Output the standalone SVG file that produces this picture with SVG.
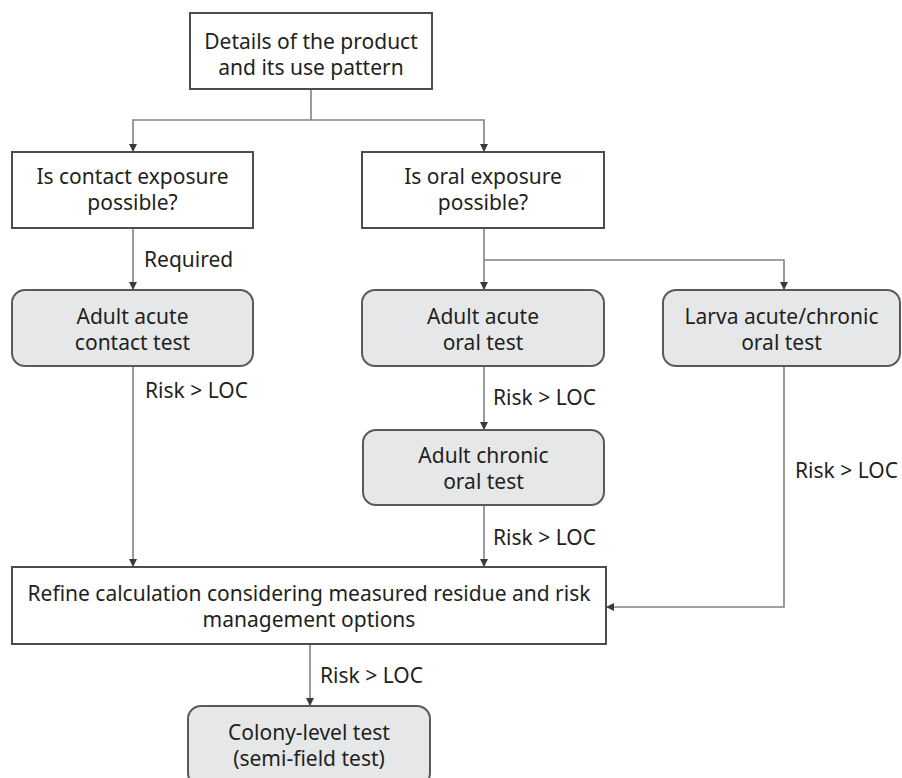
<svg xmlns="http://www.w3.org/2000/svg" width="902" height="778" viewBox="0 0 902 778">
  <style>
    .box { fill: #ffffff; stroke: #4d4d4f; stroke-width: 2; }
    .test { fill: #e6e7e8; stroke: #58595b; stroke-width: 2; }
    .txt { font-family: "Noto Sans", "Open Sans", "Liberation Sans", sans-serif; font-size: 21px; fill: #231f20; }
    .mid { text-anchor: middle; }
    .link { fill: none; stroke: #808285; stroke-width: 1.6; }
  </style>
  <defs>
    <marker id="arrow" markerWidth="8" markerHeight="8" refX="8" refY="4" orient="auto" markerUnits="userSpaceOnUse">
      <path d="M0,0 L8,4 L0,8 Z" fill="#3a3a3c"/>
    </marker>
  </defs>
  <rect width="902" height="778" fill="#ffffff"/>

  <g id="connectors">
    <polyline class="link" points="311,89 311,120"/>
    <polyline class="link" points="311,120 133,120 133,152" marker-end="url(#arrow)"/>
    <polyline class="link" points="311,120 484,120 484,152" marker-end="url(#arrow)"/>
    <polyline class="link" points="133,228 133,290" marker-end="url(#arrow)"/>
    <polyline class="link" points="484,228 484,290" marker-end="url(#arrow)"/>
    <polyline class="link" points="484,260 784,260 784,290" marker-end="url(#arrow)"/>
    <polyline class="link" points="133,366 133,567" marker-end="url(#arrow)"/>
    <polyline class="link" points="484,366 484,430" marker-end="url(#arrow)"/>
    <polyline class="link" points="484,505 484,567" marker-end="url(#arrow)"/>
    <polyline class="link" points="784,366 784,607 606,607" marker-end="url(#arrow)"/>
    <polyline class="link" points="310,644 310,706" marker-end="url(#arrow)"/>
    <text class="txt" x="144" y="267">Required</text>
    <text class="txt" x="145" y="398">Risk &gt; LOC</text>
    <text class="txt" x="493" y="405">Risk &gt; LOC</text>
    <text class="txt" x="493" y="545">Risk &gt; LOC</text>
    <text class="txt" x="795" y="478">Risk &gt; LOC</text>
    <text class="txt" x="320" y="683">Risk &gt; LOC</text>
  </g>

  <g id="product">
    <rect class="box" x="190" y="13" width="242" height="76"/>
    <text class="txt mid" x="311" y="49">Details of the product</text>
    <text class="txt mid" x="311" y="75">and its use pattern</text>
  </g>

  <g id="contact-exposure">
    <rect class="box" x="12" y="152" width="241" height="76"/>
    <text class="txt mid" x="132.5" y="184">Is contact exposure</text>
    <text class="txt mid" x="132.5" y="210">possible?</text>
  </g>

  <g id="oral-exposure">
    <rect class="box" x="362" y="152" width="242" height="76"/>
    <text class="txt mid" x="483" y="184">Is oral exposure</text>
    <text class="txt mid" x="483" y="210">possible?</text>
  </g>

  <g id="adult-acute-contact">
    <rect class="test" x="12" y="290" width="241" height="76" rx="13"/>
    <text class="txt mid" x="132.5" y="324">Adult acute</text>
    <text class="txt mid" x="132.5" y="350">contact test</text>
  </g>

  <g id="adult-acute-oral">
    <rect class="test" x="362" y="290" width="242" height="76" rx="13"/>
    <text class="txt mid" x="483" y="324">Adult acute</text>
    <text class="txt mid" x="483" y="350">oral test</text>
  </g>

  <g id="larva-oral">
    <rect class="test" x="663" y="290" width="237" height="76" rx="13"/>
    <text class="txt mid" x="781.5" y="324">Larva acute/chronic</text>
    <text class="txt mid" x="781.5" y="350">oral test</text>
  </g>

  <g id="adult-chronic-oral">
    <rect class="test" x="363" y="430" width="241" height="75" rx="13"/>
    <text class="txt mid" x="483.5" y="463">Adult chronic</text>
    <text class="txt mid" x="483.5" y="489">oral test</text>
  </g>

  <g id="refine">
    <rect class="box" x="12" y="567" width="594" height="77"/>
    <text class="txt mid" x="309" y="601">Refine calculation considering measured residue and risk</text>
    <text class="txt mid" x="309" y="627">management options</text>
  </g>

  <g id="colony">
    <rect class="test" x="188" y="706" width="242" height="80" rx="13"/>
    <text class="txt mid" x="309" y="740">Colony-level test</text>
    <text class="txt mid" x="309" y="766">(semi-field test)</text>
  </g>
</svg>
